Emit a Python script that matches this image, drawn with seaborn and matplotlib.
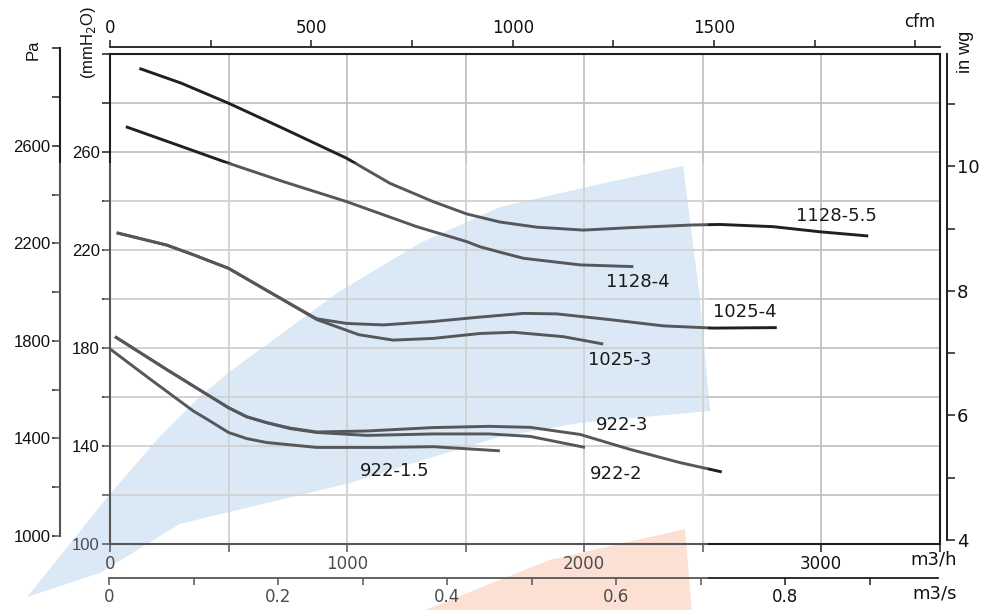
import numpy as np
import pandas as pd
import matplotlib
matplotlib.use("Agg")
import matplotlib.pyplot as plt
import seaborn as sns
from matplotlib.patches import Polygon

# ---------------- data ----------------
# flow in m3/h, pressure in mmH2O
c1128_55_x = [124, 300, 500, 731, 999, 1181, 1364, 1505, 1645, 1800, 1997, 2194, 2461, 2574, 2798, 2996, 3199]
c1128_55_y = [294, 288, 279.8, 269.5, 257.3, 247.1, 239.6, 234.6, 231.3, 229.2, 228.0, 229.0, 230.1, 230.3, 229.4, 227.3, 225.6]

c1128_4_x = [67, 300, 500, 731, 999, 1294, 1505, 1561, 1645, 1744, 1983, 2208]
c1128_4_y = [270.2, 262.2, 255.3, 247.8, 239.6, 229.4, 223.3, 221.2, 219.0, 216.5, 213.8, 213.1]

c1025_4_x = [28, 239, 350, 500, 661, 731, 872, 999, 1153, 1364, 1561, 1744, 1885, 2124, 2335, 2545, 2813]
c1025_4_y = [226.9, 221.9, 218.0, 212.4, 203.4, 199.5, 191.8, 189.9, 189.3, 190.7, 192.5, 194.0, 193.8, 191.3, 188.9, 188.0, 188.2]

c1025_3_x = [28, 239, 350, 500, 661, 731, 872, 1050, 1195, 1364, 1561, 1702, 1913, 2081]
c1025_3_y = [226.9, 221.9, 218.0, 212.4, 203.4, 199.5, 191.5, 185.3, 183.1, 183.8, 185.8, 186.3, 184.5, 181.5]

c922_3_x = [21, 239, 500, 577, 661, 759, 872, 1083, 1364, 1600, 1772, 1983, 2194, 2405, 2581]
c922_3_y = [184.5, 171.1, 155.5, 151.8, 149.4, 147.2, 145.6, 146.0, 147.4, 147.9, 147.5, 144.6, 138.5, 133.1, 129.3]

c922_2_x = [21, 239, 500, 577, 661, 759, 872, 1083, 1364, 1600, 1772, 2004]
c922_2_y = [184.5, 171.1, 155.5, 151.8, 149.4, 147.0, 145.4, 144.2, 144.8, 144.8, 143.8, 139.3]

c922_15_x = [0, 169, 351, 420, 500, 577, 661, 872, 1153, 1364, 1645]
c922_15_y = [179.5, 167.2, 154.2, 150.2, 145.4, 142.9, 141.3, 139.3, 139.3, 139.6, 137.9]

curve_names = ["1128-5.5", "1128-4", "1025-4", "1025-3", "922-3", "922-2", "922-1.5"]
curve_x = [c1128_55_x, c1128_4_x, c1025_4_x, c1025_3_x, c922_3_x, c922_2_x, c922_15_x]
curve_y = [c1128_55_y, c1128_4_y, c1025_4_y, c1025_3_y, c922_3_y, c922_2_y, c922_15_y]

# label anchor points (m3/h, mmH2O)
label_x = [3063, 2226, 2677, 2150, 2162, 2137, 1202]
label_y = [233.8, 207.0, 194.4, 175.0, 148.4, 128.6, 129.6]

# shaded operating regions (m3/h, mmH2O)
blue_x = [-350, 0, 211, 367, 498, 970, 1308, 1645, 2067, 2418, 2489, 2531,
          1983, 1645, 1363, 1013, 295, -42]
blue_y = [78.2, 120.3, 143.8, 158.9, 169.7, 203.1, 222.7, 237.4, 246.8, 254.2, 200.2, 154.2,
          149.3, 143.6, 135.4, 124.8, 108.1, 88.1]
salmon_x = [1308, 1856, 2426, 2455, 2455, 1250]
salmon_y = [72.1, 93.4, 106.0, 72.1, 60, 60]
# light wash over the left part of the chart
wash_x = [-232, -186, -186, -25, -25, 2523, 2523, -464, -464, -232]
wash_y = [255.4, 255.4, 121.9, 121.9, 255.4, 255.4, 73.0, 73.0, 98.2, 98.2]

# axis ticks
flow_ticks = np.arange(0, 3501, 500)
flow_labels = ["0", "", "1000", "", "2000", "", "3000", ""]
mm_ticks = np.arange(100, 301, 20)
mm_labels = ["100", "", "140", "", "180", "", "220", "", "260", "", ""]
pa_ticks = np.arange(1000, 3001, 200)
pa_labels = ["1000", "", "1400", "", "1800", "", "2200", "", "2600", "", ""]
wg_ticks = np.arange(4, 12)
wg_labels = ["4", "", "6", "", "8", "", "10", ""]
cfm_ticks = np.arange(0, 2001, 250)
cfm_labels = ["0", "", "500", "", "1000", "", "1500", "", ""]
m3s_ticks = np.round(np.arange(0, 0.91, 0.1), 1)
m3s_labels = ["0", "", "0.2", "", "0.4", "", "0.6", "", "0.8", ""]

# ---------------- figure ----------------
sns.set_theme(style="white")
plt.rcParams['font.family'] = ['DejaVu Sans']
plt.rcParams['axes.edgecolor'] = '#1e1e1e'
plt.rcParams['xtick.color'] = '#1e1e1e'
plt.rcParams['ytick.color'] = '#1e1e1e'

W, H = 984, 610
fig = plt.figure(figsize=(W / 100, H / 100), dpi=100, facecolor='white')


def fx(px):
    return px / W


def fy(py):
    return 1 - py / H


PX_PER_FLOW = 1 / 4.219   # px per m3/h
PX_PER_MM = 2.45          # px per mmH2O
x0, y0 = 110, 543.7
ax = fig.add_axes([fx(x0), fy(y0), 3500 * PX_PER_FLOW / W, 200 * PX_PER_MM / H])
ax.set_xlim(0, 3500)
ax.set_ylim(100, 300)
ax.set_facecolor('none')

# background & overlay axes sharing the same data mapping
inv = ax.transData.inverted()
(bx0, by0) = inv.transform(fig.transFigure.transform((0, 0)))
(bx1, by1) = inv.transform(fig.transFigure.transform((1, 1)))
bg = fig.add_axes([0, 0, 1, 1], zorder=-2)
bg.set_xlim(bx0, bx1)
bg.set_ylim(by0, by1)
bg.set_axis_off()
bg.add_patch(Polygon(np.column_stack([blue_x, blue_y]), closed=True,
                     facecolor='#cee2f2', edgecolor='none'))
bg.add_patch(Polygon(np.column_stack([salmon_x, salmon_y]), closed=True,
                     facecolor='#fbd6c6', edgecolor='none'))

# grid
ax.set_xticks(flow_ticks, labels=flow_labels)
ax.set_yticks(mm_ticks, labels=mm_labels)
ax.grid(True, color='#c2c2c2', linewidth=1.3, zorder=0)
ax.set_axisbelow(True)

# curves
rows = []
for name, xs, ys in zip(curve_names, curve_x, curve_y):
    for xv, yv in zip(xs, ys):
        rows.append({"curve": name, "m3h": xv, "mm": yv})
df = pd.DataFrame(rows)
pal = {n: '#1d2024' for n in curve_names}
sns.lineplot(data=df, x="m3h", y="mm", hue="curve", palette=pal, estimator=None,
             sort=False, legend=False, linewidth=2.1, ax=ax)
for ln in ax.get_lines():
    ln.set_solid_joinstyle('round')
    ln.set_solid_capstyle('butt')
ax.set_xlabel("")
ax.set_ylabel("")

for s in ax.spines.values():
    s.set_visible(True)
    s.set_linewidth(1.5)
    s.set_color('#1e1e1e')
ax.tick_params(axis='both', which='major', direction='out', length=5.8, width=1.1,
               labelsize=12, pad=1.5, bottom=True, left=True, labelcolor='#111')
ax.tick_params(axis='x', pad=2.5)
for lab in ax.get_yticklabels():
    lab.set_fontfamily('Liberation Sans')

# top cfm axis
secx = ax.secondary_xaxis('top', functions=(lambda v: v / 1.699, lambda v: v * 1.699))
secx.spines['top'].set_position(('outward', 4.8))
secx.spines['top'].set_linewidth(1.3)
secx.set_xticks(cfm_ticks, labels=cfm_labels)
secx.tick_params(direction='out', length=5.2, width=1.1, labelsize=12, pad=2, labelcolor='#111')

# right in wg axis
secy = ax.secondary_yaxis('right', functions=(lambda v: v / 25.4, lambda v: v * 25.4))
secy.spines['right'].set_position(('outward', 5))
secy.spines['right'].set_linewidth(1.4)
secy.spines['right'].set_bounds(4, 300 / 25.4)
secy.set_yticks(wg_ticks, labels=wg_labels)
secy.tick_params(direction='out', length=5.8, width=1.1, labelsize=13, pad=1.5, labelcolor='#111')

# left Pa axis
pa = fig.add_axes([fx(60), fy(536), 0.0005, (536 - 48.3) / H])
pa.set_ylim(1000, 3000)
pa.set_facecolor('none')
for k in ['right', 'top', 'bottom']:
    pa.spines[k].set_visible(False)
pa.spines['left'].set_linewidth(1.5)
pa.set_xticks([])
pa.set_yticks(pa_ticks, labels=pa_labels)
pa.tick_params(axis='y', direction='out', length=5.8, width=1.1, labelsize=12, pad=1.2,
               left=True, labelcolor='#111')
for lab in pa.get_yticklabels():
    lab.set_fontfamily('Liberation Sans')

# m3/s axis
axs = fig.add_axes([fx(109.3), fy(577.7), (938.3 - 109.3) / W, 0.0005])
axs.set_xlim(0, (938.3 - 109.3) / 845.2)
axs.set_facecolor('none')
for k in ['left', 'right', 'top']:
    axs.spines[k].set_visible(False)
axs.spines['bottom'].set_linewidth(1.3)
axs.set_yticks([])
axs.set_xticks(m3s_ticks, labels=m3s_labels)
axs.tick_params(axis='x', direction='out', length=5, width=1.1, labelsize=12, pad=2.5,
                bottom=True, labelcolor='#111')

# overlay wash + curve labels
ov = fig.add_axes([0, 0, 1, 1], zorder=5)
ov.set_xlim(bx0, bx1)
ov.set_ylim(by0, by1)
ov.set_axis_off()
ov.add_patch(Polygon(np.column_stack([wash_x, wash_y]), closed=True,
                     facecolor='white', edgecolor='none', alpha=0.25))
for name, lx, ly in zip(curve_names, label_x, label_y):
    ov.text(lx, ly, name, ha='center', va='center', fontsize=13, color='#1a1a1a')

# axis titles
fig.text(fx(33), fy(50), 'Pa', rotation=90, ha='center', va='center', fontsize=12,
         family='Liberation Sans', color='#111')
fig.text(fx(88), fy(43), '(mmH$_2$O)', rotation=90, ha='center', va='center', fontsize=12,
         family='Liberation Sans', color='#111')
fig.text(fx(965), fy(52), 'in wg', rotation=90, ha='center', va='center', fontsize=13,
         family='Liberation Sans', color='#111')
fig.text(fx(935), fy(22), 'cfm', ha='right', va='center', fontsize=12, color='#111')
fig.text(fx(957), fy(560), 'm3/h', ha='right', va='center', fontsize=13, color='#111')
fig.text(fx(957), fy(594), 'm3/s', ha='right', va='center', fontsize=13, color='#111')

fig.savefig('out.png', dpi=100, facecolor='white')
